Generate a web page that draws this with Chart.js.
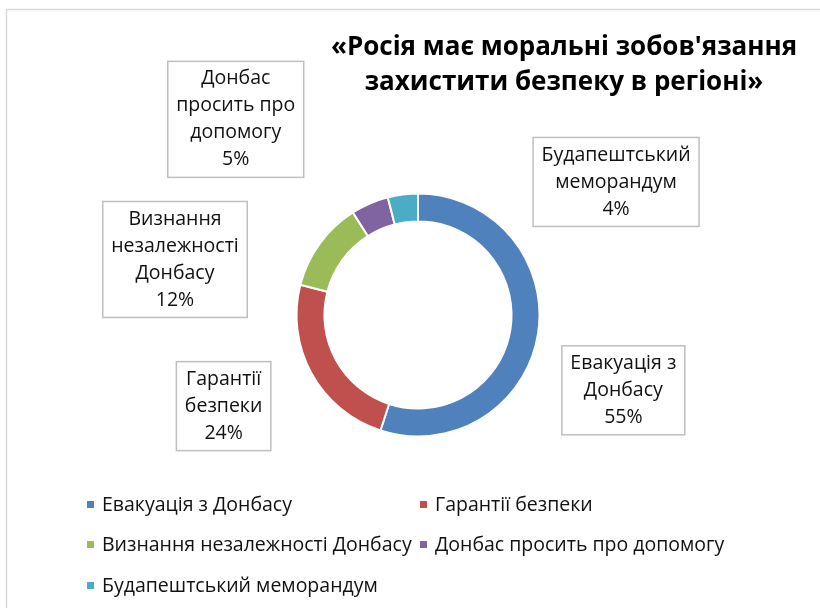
<!DOCTYPE html>
<html>
<head>
<meta charset="utf-8">
<script src="https://cdn.jsdelivr.net/npm/chart.js@4.4.0/dist/chart.umd.min.js"></script>
<style>
  body { margin: 0; background: #fff; }
</style>
</head>
<body>
<canvas id="donutChart" width="820" height="608"></canvas>
<script>
// données du graphique
const categories = ['Евакуація з Донбасу', 'Гарантії безпеки', 'Визнання незалежності Донбасу', 'Донбас просить про допомогу', 'Будапештський меморандум'];
const shares = [55, 24, 12, 5, 4];
const colours = ['#4F81BD', '#C0504D', '#9BBB59', '#8064A2', '#4BACC6'];
const titleLines = ["«Росія має моральні зобов'язання", 'захистити безпеку в регіоні»'];

// position of each label box: offset from the doughnut centre, in outer radii
const labelOffsets = [[1.69, 0.62], [-1.60, 0.75], [-2.0, -0.457], [-1.50, -1.61], [1.63, -1.095]];

const FONT = '"Open Sans", "Noto Sans", sans-serif';

function wrapText(ctx, text, maxW) {
  const words = text.split(' ');
  const lines = [];
  let cur = '';
  words.forEach(w => {
    const test = cur ? cur + ' ' + w : w;
    if (cur && ctx.measureText(test).width > maxW) {
      lines.push(cur);
      cur = w;
    } else {
      cur = test;
    }
  });
  if (cur) lines.push(cur);
  return lines;
}

const excelLook = {
  id: 'excelLook',
  beforeDraw(chart) {
    const ctx = chart.ctx;
    ctx.save();
    ctx.strokeStyle = '#d9d9d9';
    ctx.lineWidth = 1.5;
    ctx.strokeRect(6.5, 9.5, 900, 700);
    ctx.restore();
  },
  afterDraw(chart) {
    const ctx = chart.ctx;
    ctx.save();

    // titre
    ctx.fillStyle = '#000';
    ctx.font = 'bold 26px ' + FONT;
    ctx.textAlign = 'center';
    ctx.textBaseline = 'alphabetic';
    ctx.fillText(titleLines[0], 564, 55);
    ctx.fillText(titleLines[1], 564, 90);

    // étiquettes des secteurs
    const meta = chart.getDatasetMeta(0);
    const total = shares.reduce((a, b) => a + b, 0);
    ctx.font = '19.5px ' + FONT;
    meta.data.forEach((arc, i) => {
      const p = arc.getProps(['x', 'y', 'outerRadius'], true);
      const cx = p.x + labelOffsets[i][0] * p.outerRadius;
      const cy = p.y + labelOffsets[i][1] * p.outerRadius;
      const lines = wrapText(ctx, categories[i], 128);
      lines.push(Math.round(shares[i] / total * 100) + '%');
      const w = Math.max(...lines.map(l => ctx.measureText(l).width)) + 17;
      const lh = 27;
      const h = lines.length * lh + 8;
      ctx.fillStyle = '#fff';
      ctx.fillRect(cx - w / 2, cy - h / 2, w, h);
      ctx.strokeStyle = '#bfbfbf';
      ctx.lineWidth = 1.5;
      ctx.strokeRect(cx - w / 2, cy - h / 2, w, h);
      ctx.fillStyle = '#111';
      ctx.textAlign = 'center';
      ctx.textBaseline = 'middle';
      lines.forEach((l, k) => {
        ctx.fillText(l, cx, cy - h / 2 + 4 + lh * k + lh / 2);
      });
    });

    // légende
    const cols = [87, 420];
    const rows = [505, 545, 586];
    ctx.textAlign = 'left';
    ctx.textBaseline = 'middle';
    categories.forEach((c, i) => {
      const x = cols[i % 2];
      const y = rows[Math.floor(i / 2)];
      ctx.fillStyle = colours[i];
      ctx.fillRect(x, y - 4, 7, 7);
      ctx.fillStyle = '#111';
      ctx.fillText(c, x + 15, y);
    });
    ctx.restore();
  }
};

const ctx = document.getElementById('donutChart');
new Chart(ctx, {
  type: 'doughnut',
  data: {
    labels: categories,
    datasets: [{
      data: shares,
      backgroundColor: colours,
      borderColor: '#fff',
      borderWidth: 2
    }]
  },
  options: {
    responsive: false,
    animation: false,
    cutout: '77%',
    layout: {
      padding: { left: 295.5, right: 279.5, top: 192.5, bottom: 170.5 }
    },
    plugins: {
      legend: { display: false },
      title: { display: false },
      tooltip: { enabled: false }
    }
  },
  plugins: [excelLook]
});
</script>
</body>
</html>
